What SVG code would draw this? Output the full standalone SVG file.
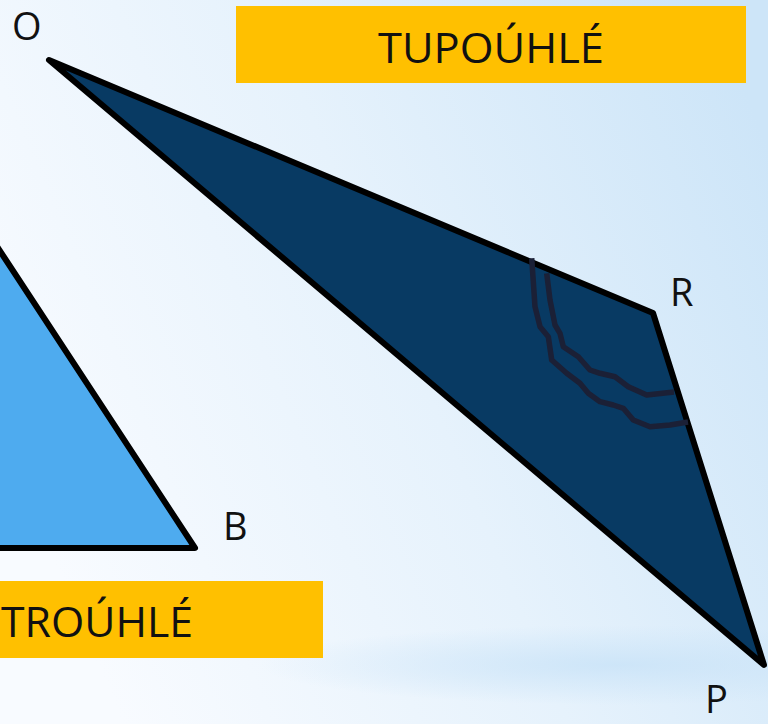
<svg xmlns="http://www.w3.org/2000/svg" width="768" height="724" viewBox="0 0 768 724">
<defs>
<linearGradient id="bg" x1="0" y1="0.6" x2="1" y2="0.2">
<stop offset="0" stop-color="#f8fbff"/>
<stop offset="0.5" stop-color="#e6f2fc"/>
<stop offset="1" stop-color="#cde5f8"/>
</linearGradient>
<radialGradient id="band" cx="0.5" cy="0.5" r="0.5">
<stop offset="0" stop-color="#cbe4f8" stop-opacity="0.9"/>
<stop offset="1" stop-color="#cbe4f8" stop-opacity="0"/>
</radialGradient>
<style>
.lbl{font-family:"Open Sans","Noto Sans",sans-serif;font-size:38px;fill:#111}
.box{fill:#ffc000}
.title{font-family:"Open Sans","Noto Sans",sans-serif;font-size:42px;fill:#111}
.tri{stroke:#000;stroke-width:6;stroke-linejoin:round}
.mark{fill:none;stroke:#1b2036;stroke-width:5.5;stroke-linejoin:round;stroke-linecap:butt}
</style>
</defs>
<rect width="768" height="724" fill="url(#bg)"/>
<ellipse cx="620" cy="665" rx="360" ry="40" fill="url(#band)"/>

<g id="triangle-acute">
<polygon class="tri" points="-40,190 195,548 -10,548" fill="#4eabef"/>
</g>

<g id="triangle-obtuse">
<polygon class="tri" points="49,60 653,313 764,665" fill="#083a63"/>
<path class="mark" d="M531.7,258.3 L535,306.7 L540,326.7 L548.3,336.7 L551.7,360 L566.7,373.3 L580,383.3 L588.3,393.3 L600,401.7 L613.3,405 L623.3,408.3 L633.3,420 L650,426.7 L670,425 L688,422"/>
<path class="mark" d="M546.7,273.3 L550,300 L555,325 L560,333.3 L563.3,346.7 L578.3,356.7 L590,370 L600,373.3 L615,376.7 L628.3,386.7 L646.7,395 L674,392"/>
</g>

<g id="label-tupouhle">
<rect class="box" x="236" y="6" width="510" height="77"/>
<text class="title" x="491" y="63" text-anchor="middle" textLength="226" lengthAdjust="spacingAndGlyphs">TUPOÚHLÉ</text>
</g>

<g id="label-ostrouhle">
<rect class="box" x="0" y="581" width="323" height="77"/>
<text class="title" x="193" y="637" text-anchor="end" textLength="192" lengthAdjust="spacingAndGlyphs">TROÚHLÉ</text>
</g>

<g id="vertex-labels">
<text class="lbl" x="12" y="40">O</text>
<text class="lbl" x="670" y="306">R</text>
<text class="lbl" x="223" y="540">B</text>
<text class="lbl" x="705" y="713">P</text>
</g>
</svg>
